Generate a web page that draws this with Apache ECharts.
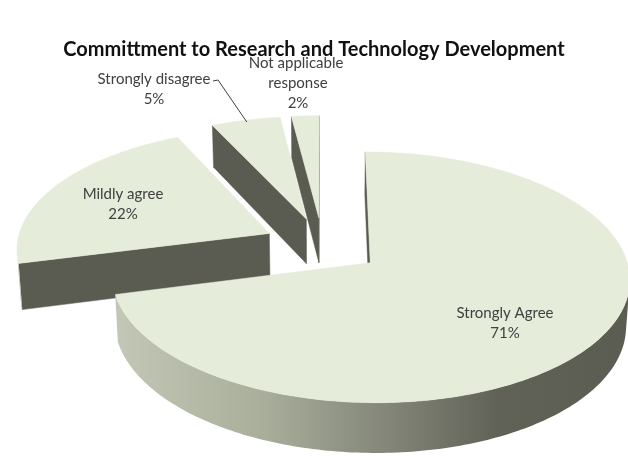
<!DOCTYPE html>
<html>
<head>
<meta charset="utf-8">
<script src="https://cdn.jsdelivr.net/npm/echarts@6/dist/echarts.min.js"></script>
<style>
  html, body { margin: 0; padding: 0; background: #ffffff; }
  #chart { width: 628px; height: 459px; }
</style>
</head>
<body>
<div id="chart"></div>
<script>
// Survey answers, clockwise from 12 o'clock
const categories = ['Strongly Agree', 'Mildly agree', 'Strongly disagree', 'Not applicable response'];
const shares = [71, 22, 5, 2];

// Perspective view of the tilted, exploded disc (unit radius)
const view = {
  cx: 322.5, cy: 245.3,
  focalX: 1975, focalY: 2031, dist: 7.81,
  tilt: 27.4 * Math.PI / 180,
  explode: 0.235,
  thick: 0.2
};

// Label anchors and wrapping width per slice
const labelAt = [[505, 323], [123, 204], [154, 89], [298, 83]];
const labelWrap = [0, 0, 0, 100];
const leaderFrom = { 2: [[213, 81], [218, 80]] };

const TOP = '#e5ecda';
const SIDE = '#5a5c51';

const sinT = Math.sin(view.tilt), cosT = Math.cos(view.tilt);
const camera = [0, -view.dist * cosT, view.dist * sinT];

function project(u, v, h) {
  const yp = v * sinT + h * cosT;
  const zp = v * cosT - h * sinT;
  const w = view.dist + zp;
  return [view.cx + view.focalX * u / w, view.cy - view.focalY * yp / w];
}

function facing(normal, p) {
  return normal[0] * (camera[0] - p[0]) + normal[1] * (camera[1] - p[1]) + normal[2] * (camera[2] - p[2]) > 0;
}

const total = shares.reduce((a, b) => a + b, 0);

function renderSlice(params, api) {
  const idx = params.dataIndex;
  const val = api.value(0);
  let before = 0;
  for (let i = 0; i < idx; i++) before += shares[i];
  const a0 = before / total * Math.PI * 2;
  const a1 = (before + val) / total * Math.PI * 2;
  const mid = (a0 + a1) / 2;
  const ou = view.explode * Math.sin(mid);
  const ov = view.explode * Math.cos(mid);
  const H = -view.thick;

  const base = Math.round((1 - Math.cos(mid)) * 1000) * 10;
  const children = [];

  const steps = Math.max(4, Math.ceil((a1 - a0) / (Math.PI / 180)));
  const angles = [];
  for (let k = 0; k <= steps; k++) angles.push(a0 + (a1 - a0) * k / steps);

  const rim = (t, h) => project(ou + Math.sin(t), ov + Math.cos(t), h);
  const apexTop = project(ou, ov, 0);
  const apexBot = project(ou, ov, H);

  // radial side faces
  const radial = [[a0, [-Math.cos(a0), Math.sin(a0), 0]], [a1, [Math.cos(a1), -Math.sin(a1), 0]]];
  radial.forEach(([t, n]) => {
    const p = [ou + 0.5 * Math.sin(t), ov + 0.5 * Math.cos(t), H / 2];
    if (!facing(n, p)) return;
    children.push({
      type: 'polygon', z2: base + 1,
      shape: { points: [apexTop, rim(t, 0), rim(t, H), apexBot] },
      style: { fill: SIDE, stroke: SIDE, lineWidth: 0.5 }
    });
  });

  // outer curved wall, in visible runs
  let run = [];
  const flush = () => {
    if (run.length > 1) {
      const pts = run.map(t => rim(t, 0)).concat(run.slice().reverse().map(t => rim(t, H)));
      children.push({
        type: 'polygon', z2: base + 1,
        shape: { points: pts },
        style: {
          fill: new echarts.graphic.LinearGradient(110, 0, 628, 0, [
            { offset: 0, color: '#c4c9b7' },
            { offset: 0.3, color: '#a9ae9b' },
            { offset: 0.55, color: '#808376' },
            { offset: 0.75, color: '#606257' },
            { offset: 1, color: '#5b5d53' }
          ], true)
        }
      });
    }
    run = [];
  };
  angles.forEach(t => {
    const n = [Math.sin(t), Math.cos(t), 0];
    const p = [ou + Math.sin(t), ov + Math.cos(t), H / 2];
    if (facing(n, p)) run.push(t); else flush();
  });
  flush();

  // top face
  children.push({
    type: 'polygon', z2: base + 2,
    shape: { points: [apexTop].concat(angles.map(t => rim(t, 0))) },
    style: { fill: TOP, stroke: TOP, lineWidth: 0.5 }
  });

  // label
  const pct = Math.round(val / total * 100);
  const style = {
    text: categories[idx] + '\n' + pct + '%',
    fill: '#404040', font: '15px Lato',
    align: 'center', verticalAlign: 'middle', lineHeight: 20
  };
  if (labelWrap[idx]) { style.width = labelWrap[idx]; style.overflow = 'break'; }
  children.push({ type: 'text', z2: 100000, x: labelAt[idx][0], y: labelAt[idx][1], style });

  if (leaderFrom[idx]) {
    const r = 0.98;
    const end = project(ou + r * Math.sin(mid), ov + r * Math.cos(mid), 0);
    children.push({
      type: 'polyline', z2: 100001,
      shape: { points: leaderFrom[idx].concat([end]) },
      style: { stroke: '#404040', lineWidth: 1, fill: null }
    });
  }

  return { type: 'group', children };
}

const chart = echarts.init(document.getElementById('chart'), null, { renderer: 'canvas' });
chart.setOption({
  animation: false,
  backgroundColor: '#ffffff',
  title: {
    text: 'Committment to Research and Technology Development',
    left: 'center', top: 35,
    textStyle: { fontFamily: 'Lato', fontWeight: 'bold', fontSize: 20, color: '#111111' }
  },
  series: [{
    type: 'custom',
    coordinateSystem: 'none',
    silent: true,
    data: shares.map((v, i) => ({ name: categories[i], value: v })),
    renderItem: renderSlice
  }]
});
</script>
</body>
</html>
